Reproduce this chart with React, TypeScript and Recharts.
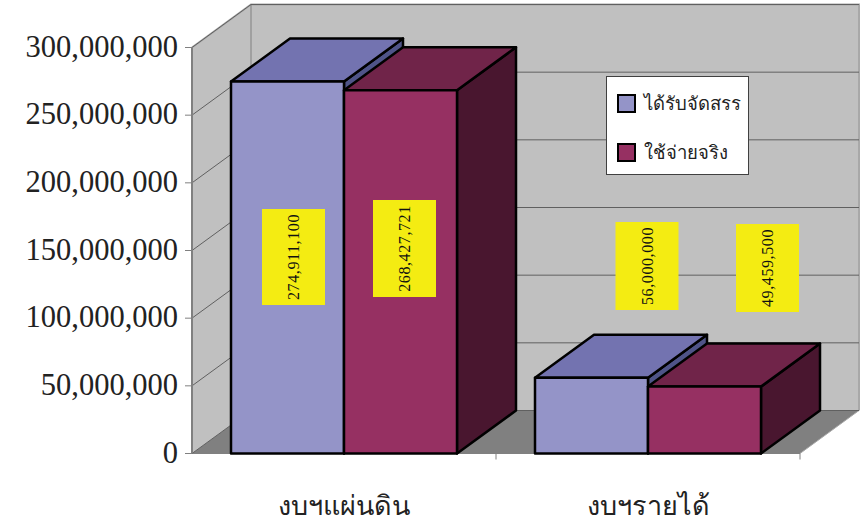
import React from 'react';
import { BarChart, Bar, XAxis, YAxis, CartesianGrid, Legend, LabelList } from 'recharts';

const categories = ['งบฯแผ่นดิน', 'งบฯรายได้'];
const allocated = [274911100, 56000000];
const spent = [268427721, 49459500];
const yTicks = [0, 50000000, 100000000, 150000000, 200000000, 250000000, 300000000];

const chartData = categories.map((name, i) => ({ name, allocated: allocated[i], spent: spent[i] }));

const W = 865;
const H = 526;
const FONT = '"Liberation Serif", "Times New Roman", serif';

// plot area of the front plane, and the depth of the fake 3D box
const LEFT = 192;
const RIGHT = 800;
const TOP = 47.5;
const BOTTOM = 453.5;
const DX = 59;
const DY = -43;

const BLUE = { front: '#9494C8', top: '#7373B0', side: '#4F5488' };
const PLUM = { front: '#963062', top: '#702449', side: '#49162F' };

// yellow note boxes were placed by hand in the original
const noteBoxes = {
  allocated: [{ x: 293.5, y: 257, h: 96 }, { x: 647, y: 266, h: 88 }],
  spent: [{ x: 404.5, y: 248.5, h: 97 }, { x: 767.5, y: 268, h: 88 }]
};

// sits behind the transparent chart so the grid lines land on top of it
function Walls() {
  return (
    <svg width={W} height={H} style={{ position: 'absolute', left: 0, top: 0 }}>
      <polygon
        points={`${LEFT},${TOP} ${LEFT + DX},${TOP + DY} ${LEFT + DX},${BOTTOM + DY} ${LEFT},${BOTTOM}`}
        fill="#C0C0C0"
      />
      <polygon
        points={`${LEFT + DX},${TOP + DY} ${RIGHT + DX},${TOP + DY} ${RIGHT + DX},${BOTTOM + DY} ${LEFT + DX},${BOTTOM + DY}`}
        fill="#C0C0C0"
      />
      <polygon
        points={`${LEFT},${BOTTOM} ${LEFT + DX},${BOTTOM + DY} ${RIGHT + DX},${BOTTOM + DY} ${RIGHT},${BOTTOM}`}
        fill="#808080"
      />
      <polyline
        points={`${LEFT},${TOP} ${LEFT + DX},${TOP + DY} ${RIGHT + DX},${TOP + DY} ${RIGHT + DX},${BOTTOM + DY}`}
        fill="none"
        stroke="#A8A8A8"
        strokeWidth={2}
      />
      <line x1={LEFT + DX} y1={TOP + DY} x2={LEFT + DX} y2={BOTTOM + DY} stroke="#808080" />
      <line x1={RIGHT + DX} y1={BOTTOM + DY} x2={RIGHT} y2={BOTTOM} stroke="#A8A8A8" />
      {/* front floor edge and category boundary ticks */}
      <line x1={LEFT} y1={BOTTOM} x2={RIGHT} y2={BOTTOM} stroke="#808080" />
      <line x1={(LEFT + RIGHT) / 2} y1={BOTTOM} x2={(LEFT + RIGHT) / 2} y2={BOTTOM + 6} stroke="#808080" />
      <line x1={RIGHT} y1={BOTTOM} x2={RIGHT} y2={BOTTOM + 6} stroke="#808080" />
    </svg>
  );
}

function WallGridLine(props: any) {
  const { x1, y1, x2 } = props;
  return (
    <polyline
      points={`${x1},${y1} ${x1 + DX},${y1 + DY} ${x2 + DX},${y1 + DY}`}
      fill="none"
      stroke="#606060"
      strokeWidth={1}
    />
  );
}

const makeBox = (colors: typeof BLUE) => (props: any) => {
  const { x, y, width, height } = props;
  const r = x + width;
  const b = y + height;
  return (
    <g stroke="#000000" strokeWidth={2.5} strokeLinejoin="round">
      <polygon points={`${r},${y} ${r + DX},${y + DY} ${r + DX},${b + DY} ${r},${b}`} fill={colors.side} />
      <polygon points={`${x},${y} ${x + DX},${y + DY} ${r + DX},${y + DY} ${r},${y}`} fill={colors.top} />
      <rect x={x} y={y} width={width} height={height} fill={colors.front} />
    </g>
  );
};

const makeNote = (boxes: { x: number; y: number; h: number }[], values: number[]) => (props: any) => {
  const c = boxes[props.index];
  return (
    <g>
      <rect x={c.x - 31.5} y={c.y - c.h / 2} width={63} height={c.h} fill="#F4EC12" />
      <text
        x={c.x}
        y={c.y}
        transform={`rotate(-90 ${c.x} ${c.y})`}
        textAnchor="middle"
        dominantBaseline="central"
        fontFamily={FONT}
        fontSize={16}
        letterSpacing={0.6}
        fill="#111111"
      >
        {values[props.index].toLocaleString('en-US')}
      </text>
    </g>
  );
};

function LegendBox(props: any) {
  return (
    <div
      style={{
        boxSizing: 'border-box',
        width: 143,
        height: 99,
        background: '#FFFFFF',
        border: '1px solid #404040',
        fontFamily: FONT
      }}
    >
      {props.payload.map((item: any, i: number) => (
        <div
          key={item.value}
          style={{ position: 'absolute', left: 11, top: i === 0 ? 18 : 67, display: 'flex', alignItems: 'center', height: 19 }}
        >
          <span
            style={{
              boxSizing: 'border-box',
              display: 'inline-block',
              width: 19,
              height: 19,
              background: item.color,
              border: '2px solid #000000'
            }}
          />
          <span style={{ marginLeft: 8, fontSize: 18.5, color: '#222222', whiteSpace: 'nowrap' }}>{item.value}</span>
        </div>
      ))}
    </div>
  );
}

export default function App() {
  return (
    <div style={{ position: 'absolute', left: 0, top: 0, width: W, height: H, background: '#FFFFFF' }}>
      <Walls />
      <div style={{ position: 'absolute', left: 0, top: 0 }}>
        <BarChart
          width={W}
          height={H}
          data={chartData}
          barSize={113}
          barGap={0}
          margin={{ top: TOP, right: W - RIGHT, bottom: 0, left: 0 }}
        >
          <CartesianGrid vertical={false} horizontal={(p: any) => <WallGridLine key={p.key ?? p.y1} {...p} />} />
          <XAxis
            dataKey="name"
            height={H - BOTTOM}
            axisLine={false}
            tickLine={false}
            tickMargin={36}
            interval={0}
            tick={{ fontFamily: FONT, fontSize: 27, fill: '#222222' }}
          />
          <YAxis
            width={LEFT}
            domain={[0, 300000000]}
            ticks={yTicks}
            interval={0}
            axisLine={{ stroke: '#808080', strokeWidth: 2 }}
            tickLine={{ stroke: '#808080' }}
            tickSize={7}
            tickMargin={7}
            tickFormatter={(v: number) => v.toLocaleString('en-US')}
            tick={{ fontFamily: FONT, fontSize: 30.5, fill: '#222222', dy: -1.5 }}
          />
          <Legend
            layout="horizontal"
            verticalAlign="middle"
            align="center"
            itemSorter={null}
            content={<LegendBox />}
            wrapperStyle={{ left: 606, top: 76, width: 143, height: 99, bottom: 'auto', right: 'auto' }}
          />
          <Bar dataKey="allocated" name="ได้รับจัดสรร" fill={BLUE.front} shape={makeBox(BLUE)} isAnimationActive={false}>
            <LabelList dataKey="allocated" content={makeNote(noteBoxes.allocated, allocated)} />
          </Bar>
          <Bar dataKey="spent" name="ใช้จ่ายจริง" fill={PLUM.front} shape={makeBox(PLUM)} isAnimationActive={false}>
            <LabelList dataKey="spent" content={makeNote(noteBoxes.spent, spent)} />
          </Bar>
        </BarChart>
      </div>
    </div>
  );
}
